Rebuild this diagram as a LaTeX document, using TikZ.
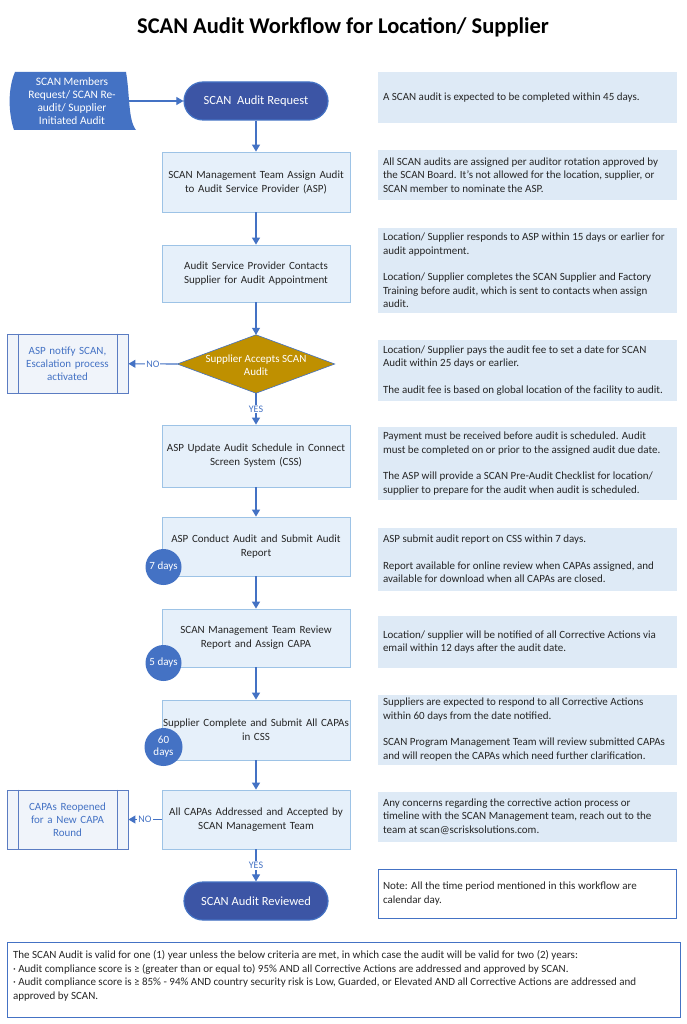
\documentclass[tikz,border=0pt]{standalone}
\usepackage{fontspec}
\setmainfont{Carlito}
\usetikzlibrary{arrows.meta}
\definecolor{dblue}{HTML}{3C55A5}
\definecolor{mblue}{HTML}{4472C4}
\definecolor{pfill}{HTML}{E6F0FA}
\definecolor{pborder}{HTML}{9DC3E6}
\definecolor{rfill}{HTML}{DEEAF6}
\definecolor{gold}{HTML}{BF9000}
\definecolor{sbfill}{HTML}{F0F4FA}
\definecolor{sbborder}{HTML}{5B7CC2}
\definecolor{txt}{HTML}{262626}
\begin{document}
\begin{tikzpicture}[x=1pt,y=-1pt,
  proc/.style={draw=pborder, fill=pfill, line width=0.8pt, minimum width=188pt, text width=188pt, align=center, inner sep=0pt, font=\fontsize{11}{14}\selectfont, text=txt},
  term/.style={draw=mblue, fill=dblue, line width=1.2pt, rounded corners=19pt, minimum width=144pt, minimum height=38pt, inner sep=0pt, text=white, font=\fontsize{12.5}{14}\selectfont},
  rbox/.style={fill=rfill, minimum width=299pt, text width=289pt, inner xsep=5pt, inner ysep=0pt, align=flush left, font=\fontsize{11}{13.4}\selectfont, text=txt},
  sidebox/.style={draw=sbborder, fill=sbfill, line width=0.9pt, minimum width=121pt, minimum height=59pt, text width=97pt, inner sep=0pt, align=center, text=mblue, font=\fontsize{11}{13}\selectfont},
  circ/.style={circle, fill=mblue, minimum size=36pt, inner sep=0pt, align=center, text=white, font=\fontsize{11}{12}\selectfont},
  conn/.style={draw=mblue, line width=1.1pt, -{Triangle[length=7pt,width=8pt]}},
  lbl/.style={fill=white, inner sep=1pt, text=mblue, font=\fontsize{10}{11}\selectfont},
]
\useasboundingbox (0,0) rectangle (686,1024);
\fill[white] (0,0) rectangle (686,1024);

% title
\node[font=\fontsize{22.5}{26}\selectfont\bfseries] (title) at (343,27) {SCAN Audit Workflow for Location/ Supplier};

% source shape
\fill[mblue] (15,72) -- (126,72) .. controls (130,95) and (128,120) .. (136,130) -- (14,130) .. controls (8,112) and (8,88) .. (15,72) -- cycle;
\node[minimum width=126pt, minimum height=58pt, inner sep=0pt, align=center, text=white, font=\fontsize{11.4}{13}\selectfont] (src) at (72,101) {SCAN Members\\Request/ SCAN Re-\\audit/ Supplier\\Initiated Audit};

% main flow
\node[term] (start) at (256,101) {SCAN\ \ Audit Request};
\node[proc, minimum height=60pt] (b1) at (256,182) {SCAN Management Team Assign Audit\\to Audit Service Provider (ASP)};
\node[proc, minimum height=57pt] (b2) at (256,273.5) {Audit Service Provider Contacts\\Supplier for Audit Appointment};
\node[minimum width=157pt, minimum height=58pt, inner sep=0pt] (dec) at (256,364) {};
\draw[fill=gold, draw=mblue, line width=0.6pt] (dec.west) -- (dec.north) -- (dec.east) -- (dec.south) -- cycle;
\node[align=center, text=white, font=\fontsize{11}{13}\selectfont, inner sep=0pt] (dectext) at ([yshift=-1pt]dec.center) {Supplier Accepts SCAN\\Audit};
\node[proc, minimum height=62pt] (b3) at (256,456) {ASP Update Audit Schedule in Connect\\Screen System (CSS)};
\node[proc, minimum height=59pt] (b4) at (256,546.5) {ASP Conduct Audit and Submit Audit\\Report};
\node[proc, minimum height=58pt] (b5) at (256,638) {SCAN Management Team Review\\Report and Assign CAPA};
\node[proc, minimum height=60pt] (b6) at (256,730) {Supplier Complete and Submit All CAPAs\\in CSS};
\node[proc, minimum height=59pt] (b7) at (256,819.5) {All CAPAs Addressed and Accepted by\\SCAN Management Team};
\node[term] (end) at (256,901) {SCAN Audit Reviewed};

% side boxes
\node[sidebox] (esc) at (67.5,363.5) {ASP notify SCAN,\\Escalation process\\activated};
\draw[sbborder, line width=0.9pt] ([xshift=12pt]esc.north west) -- ([xshift=12pt]esc.south west)
  ([xshift=-11pt]esc.north east) -- ([xshift=-11pt]esc.south east);
\node[sidebox] (reopen) at (67.5,819.5) {CAPAs Reopened\\for a New CAPA\\Round};
\draw[sbborder, line width=0.9pt] ([xshift=12pt]reopen.north west) -- ([xshift=12pt]reopen.south west)
  ([xshift=-11pt]reopen.north east) -- ([xshift=-11pt]reopen.south east);

% day circles
\node[circ] (c7) at (163.5,567) {7 days};
\node[circ] (c5) at (163.5,663) {5 days};
\node[circ, minimum size=38pt] (c60) at (163.5,747) {60\\days};

% connectors
\draw[conn] ([xshift=-7pt]src.east) -- (start.west);
\draw[conn] (start) -- (b1);
\draw[conn] (b1) -- (b2);
\draw[conn] (b2) -- (dec.north);
\draw[conn] (dec.south) -- node[lbl]{YES} (b3);
\draw[conn] (dec.west) -- node[lbl]{NO} (esc);
\draw[conn] (b3) -- (b4);
\draw[conn] (b4) -- (b5);
\draw[conn] (b5) -- (b6);
\draw[conn] (b6) -- (b7);
\draw[conn] (b7) -- node[lbl]{NO} (reopen);
\draw[conn] (b7) -- node[lbl]{YES} (end);

% right notes
\node[rbox, minimum height=51pt] (r1) at (527.5,97.5) {A SCAN audit is expected to be completed within 45 days.};
\node[rbox, minimum height=50pt] (r2) at (527.5,175) {All SCAN audits are assigned per auditor rotation approved by\\the SCAN Board. It’s not allowed for the location, supplier, or\\SCAN member to nominate the ASP.};
\node[rbox, minimum height=85pt] (r3) at (527.5,270.5) {Location/ Supplier responds to ASP within 15 days or earlier for\\audit appointment.\\[13pt]Location/ Supplier completes the SCAN Supplier and Factory\\Training before audit, which is sent to contacts when assign\\audit.};
\node[rbox, minimum height=61pt] (r4) at (527.5,370.5) {Location/ Supplier pays the audit fee to set a date for SCAN\\Audit within 25 days or earlier.\\[13pt]The audit fee is based on global location of the facility to audit.};
\node[rbox, minimum height=73pt] (r5) at (527.5,463.5) {Payment must be received before audit is scheduled. Audit\\must be completed on or prior to the assigned audit due date.\\[13pt]The ASP will provide a SCAN Pre-Audit Checklist for location/\\supplier to prepare for the audit when audit is scheduled.};
\node[rbox, minimum height=63pt] (r6) at (527.5,559) {ASP submit audit report on CSS within 7 days.\\[13pt]Report available for online review when CAPAs assigned, and\\available for download when all CAPAs are closed.};
\node[rbox, minimum height=52pt] (r7) at (527.5,642) {Location/ supplier will be notified of all Corrective Actions via\\email within 12 days after the audit date.};
\node[rbox, minimum height=70pt] (r8) at (527.5,729.5) {Suppliers are expected to respond to all Corrective Actions\\within 60 days from the date notified.\\[13pt]SCAN Program Management Team will review submitted CAPAs\\and will reopen the CAPAs which need further clarification.};
\node[rbox, minimum height=50pt] (r9) at (527.5,816.5) {Any concerns regarding the corrective action process or\\timeline with the SCAN Management team, reach out to the\\team at scan@scrisksolutions.com.};
\node[rbox, fill=white, draw=mblue, line width=0.9pt, minimum width=298pt, text width=288pt, minimum height=49pt] (note) at (527,893.5) {Note: All the time period mentioned in this workflow are\\calendar day.};

% bottom validity box
\node[draw=mblue, line width=0.8pt, fill=white, minimum width=673pt, minimum height=75pt, text width=661pt, inner xsep=6pt, inner ysep=0pt, align=flush left, font=\fontsize{11}{13.6}\selectfont, text=txt] (valid) at (343.5,979.5) {The SCAN Audit is valid for one (1) year unless the below criteria are met, in which case the audit will be valid for two (2) years:\\· Audit compliance score is ≥ (greater than or equal to) 95\% AND all Corrective Actions are addressed and approved by SCAN.\\· Audit compliance score is ≥ 85\% - 94\% AND country security risk is Low, Guarded, or Elevated AND all Corrective Actions are addressed and\\approved by SCAN.\par\vspace*{7pt}};
\end{tikzpicture}
\end{document}
